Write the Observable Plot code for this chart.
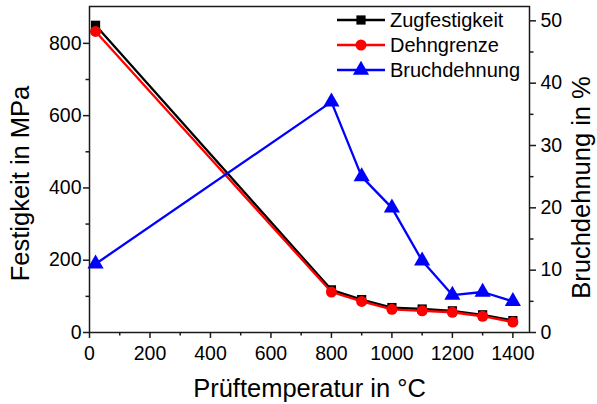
<!DOCTYPE html>
<html>
<head>
<meta charset="utf-8">
<script src="https://cdn.jsdelivr.net/npm/d3@7"></script>
<script src="https://cdn.jsdelivr.net/npm/@observablehq/plot@0.6"></script>
<style>
  body { margin: 0; background: #fff; }
  #chart { width: 597px; height: 404px; }
</style>
</head>
<body>
<div id="chart"></div>
<script>
// ---- data ----
const temperatures = [20, 800, 900, 1000, 1100, 1200, 1300, 1400];
const zugfestigkeit = [850, 118, 91, 69, 65, 60, 49, 33];   // MPa
const dehngrenze    = [833, 112, 86, 64, 60, 56, 45, 29];   // MPa
const bruchdehnung  = [11, 37, 25, 20, 11.5, 6, 6.5, 5];    // %
const seriesNames = ["Zugfestigkeit", "Dehngrenze", "Bruchdehnung"];
const xTicks = [0, 200, 400, 600, 800, 1000, 1200, 1400];
const xMinorTicks = [100, 300, 500, 700, 900, 1100, 1300];
const yLeftTicks = [0, 200, 400, 600, 800];
const yLeftMinorTicks = [100, 300, 500, 700];
const yRightTicks = [0, 10, 20, 30, 40, 50];
const yRightMinorTicks = [5, 15, 25, 35, 45];
const xLabel = "Prüftemperatur in °C";
const yLeftLabel = "Festigkeit in MPa";
const yRightLabel = "Bruchdehnung in %";

// ---- scales ----
const leftMax = 902;
const rightMax = 52.3;
const k = leftMax / rightMax; // % -> MPa-equivalent

const colors = {Zugfestigkeit: "#000000", Dehngrenze: "#ff0000", Bruchdehnung: "#0000ff"};
const symbols = {Zugfestigkeit: "square", Dehngrenze: "circle", Bruchdehnung: "triangle"};
const radii = {square: 5.2, circle: 5.5, triangle: 6};

const dZ = temperatures.map((t, i) => ({t, v: zugfestigkeit[i]}));
const dD = temperatures.map((t, i) => ({t, v: dehngrenze[i]}));
const dB = temperatures.map((t, i) => ({t, v: bruchdehnung[i] * k}));

const font = "'Liberation Sans', Arial, Helvetica, sans-serif";
const axisColor = "#1a1a1a";
const tickFont = 19.5;

const chart = Plot.plot({
  width: 597,
  height: 404,
  marginLeft: 89,
  marginRight: 68,
  marginTop: 6,
  marginBottom: 72,
  style: {fontFamily: font, fontSize: tickFont + "px", color: "#000", background: "#fff"},
  x: {domain: [0, 1455]},
  y: {domain: [0, leftMax]},
  marks: [
    // axes
    Plot.axisX({ticks: xTicks, tickSize: 6, tickPadding: 8, tickFormat: d => String(d), label: null, stroke: axisColor, strokeWidth: 1.5, fontSize: tickFont}),
    Plot.axisX({ticks: xMinorTicks, tickSize: 3.5, tickFormat: () => "", label: null, stroke: axisColor, strokeWidth: 1.5}),
    Plot.axisY({ticks: yLeftTicks, tickSize: 6, tickPadding: 2, tickFormat: d => String(d), label: null, stroke: axisColor, strokeWidth: 1.5, fontSize: tickFont}),
    Plot.axisY({ticks: yLeftMinorTicks, tickSize: 3.5, tickFormat: () => "", label: null, stroke: axisColor, strokeWidth: 1.5}),
    Plot.axisY({anchor: "right", ticks: yRightTicks.map(v => v * k), tickFormat: v => String(Math.round(v / k)), tickSize: 6, tickPadding: 5, label: null, stroke: axisColor, strokeWidth: 1.5, fontSize: tickFont}),
    Plot.axisY({anchor: "right", ticks: yRightMinorTicks.map(v => v * k), tickFormat: () => "", tickSize: 3.5, label: null, stroke: axisColor, strokeWidth: 1.5}),
    // data
    Plot.line(dZ, {x: "t", y: "v", stroke: colors.Zugfestigkeit, strokeWidth: 2.3}),
    Plot.dot(dZ, {x: "t", y: "v", symbol: "square", r: radii.square, fill: colors.Zugfestigkeit, stroke: "none"}),
    Plot.line(dD, {x: "t", y: "v", stroke: colors.Dehngrenze, strokeWidth: 2.3}),
    Plot.dot(dD, {x: "t", y: "v", symbol: "circle", r: radii.circle, fill: colors.Dehngrenze, stroke: "none"}),
    Plot.line(dB, {x: "t", y: "v", stroke: colors.Bruchdehnung, strokeWidth: 2.3}),
    Plot.dot(dB, {x: "t", y: "v", symbol: "triangle", r: radii.triangle, fill: colors.Bruchdehnung, stroke: "none"}),
    Plot.frame({stroke: axisColor, strokeWidth: 1.5}),
    // axis titles
    Plot.text([xLabel], {frameAnchor: "bottom", dy: 56, text: d => d, fontSize: 25.5, textAnchor: "middle", lineAnchor: "middle"}),
    Plot.text([yLeftLabel], {frameAnchor: "left", dx: -69, dy: 14, rotate: -90, text: d => d, fontSize: 25.5, textAnchor: "middle", lineAnchor: "middle"}),
    Plot.text([yRightLabel], {frameAnchor: "right", dx: 52, dy: 18, rotate: -90, text: d => d, fontSize: 25.5, textAnchor: "middle", lineAnchor: "middle"})
  ]
});

// ---- legend (inside plot, top right) ----
const svg = d3.select(chart);
const lg = svg.append("g").attr("font-family", font).attr("font-size", 20).attr("text-anchor", "start");
seriesNames.forEach((name, i) => {
  const y = 20 + i * 25;
  const g = lg.append("g").attr("transform", `translate(0,${y})`);
  g.append("line").attr("x1", 337).attr("x2", 385).attr("y1", 0).attr("y2", 0)
    .attr("stroke", colors[name]).attr("stroke-width", 2.3);
  const sym = {square: d3.symbolSquare, circle: d3.symbolCircle, triangle: d3.symbolTriangle}[symbols[name]];
  const r = radii[symbols[name]];
  g.append("path").attr("d", d3.symbol(sym, Math.PI * r * r)()).attr("transform", "translate(361,0)")
    .attr("fill", colors[name]);
  g.append("text").attr("x", 390).attr("y", 0).attr("dy", "0.35em").attr("text-anchor", "start").attr("fill", "#000").text(name);
});

document.getElementById("chart").appendChild(chart);
</script>
</body>
</html>
